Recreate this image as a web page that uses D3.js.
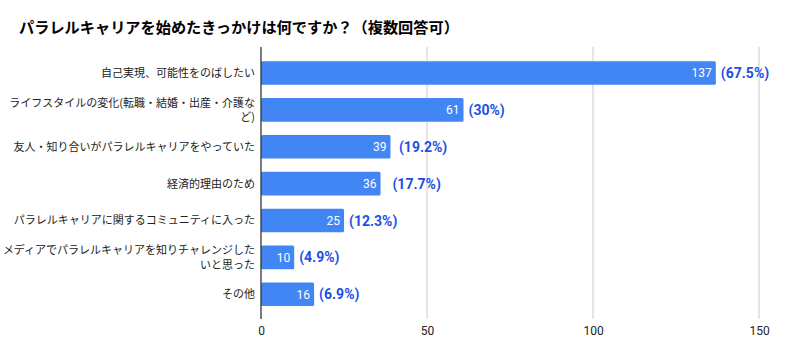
<!DOCTYPE html>
<html><head><meta charset="utf-8">
<script src="https://cdnjs.cloudflare.com/ajax/libs/d3/7.8.5/d3.min.js"></script>
<style>
html,body{margin:0;padding:0;background:#fff;}
svg{display:block;}
</style></head>
<body><svg id="c" width="791" height="360"></svg>
<script>
const title = "パラレルキャリアを始めたきっかけは何ですか？（複数回答可）";
const categories = [
  "自己実現、可能性をのばしたい",
  "ライフスタイルの変化(転職・結婚・出産・介護など)",
  "友人・知り合いがパラレルキャリアをやっていた",
  "経済的理由のため",
  "パラレルキャリアに関するコミュニティに入った",
  "メディアでパラレルキャリアを知りチャレンジしたいと思った",
  "その他"
];
const values = [137, 61, 39, 36, 25, 10, 16];
const pctLabels = ["(67.5%)", "(30%)", " (19.2%)", "  (17.7%)", "(12.3%)", "(4.9%)", "(6.9%)"];
const xTicks = [0, 50, 100, 150];

const svg = d3.select("#c");
const L = 261, R = 759, T = 47, B = 319;
const x = d3.scaleLinear().domain([0, 150]).range([L, R]);
const y = d3.scaleBand().domain(categories).range([54.5, 312.7]).paddingInner(0.36).paddingOuter(0.18);

svg.append("text").attr("x", 19).attr("y", 33)
  .attr("font-family", "'Noto Sans CJK JP', sans-serif").attr("font-weight", "bold")
  .attr("font-size", 15.2).attr("fill", "#000").text(title);

// grid
svg.append("g").selectAll("line").data(xTicks.filter(d => d > 0)).join("line")
  .attr("x1", d => x(d)).attr("x2", d => x(d)).attr("y1", T).attr("y2", B)
  .attr("stroke", "#cccccc").attr("stroke-width", 1);

// x tick labels
const xa = svg.append("g").attr("transform", `translate(0,${B})`)
  .call(d3.axisBottom(x).tickValues(xTicks).tickSize(0).tickPadding(7).tickFormat(d3.format("d")));
xa.select(".domain").remove();
xa.selectAll("text").attr("font-family", "Roboto, sans-serif").attr("font-size", 12).attr("fill", "#222");

// bars
svg.append("g").selectAll("rect").data(values).join("rect")
  .attr("x", x(0)).attr("y", (d, i) => y(categories[i]))
  .attr("width", d => x(d) - x(0)).attr("height", y.bandwidth())
  .attr("rx", 1.5).attr("fill", "#4285f4");

// zero axis line
svg.append("line").attr("x1", x(0)).attr("x2", x(0)).attr("y1", T).attr("y2", B)
  .attr("stroke", "#333").attr("stroke-width", 1.3);

// value labels inside
svg.append("g").selectAll("text").data(values).join("text")
  .attr("x", d => x(d) - 4).attr("y", (d, i) => y(categories[i]) + y.bandwidth() / 2)
  .attr("dy", "0.36em").attr("text-anchor", "end")
  .attr("font-family", "Roboto, sans-serif").attr("font-size", 12).attr("fill", "#fff")
  .text(d => d);

// percent labels
svg.append("g").selectAll("text").data(values).join("text")
  .attr("x", d => x(d) + 5).attr("y", (d, i) => y(categories[i]) + y.bandwidth() / 2)
  .attr("dy", "0.36em").attr("text-anchor", "start").style("white-space", "pre")
  .attr("font-family", "Roboto, sans-serif").attr("font-weight", "bold").attr("font-size", 14).attr("fill", "#1d4fe6")
  .text((d, i) => pctLabels[i]);

// category labels with wrapping
const maxW = 254.5, lineH = 14.5, fs = 11;
const cg = svg.append("g");
categories.forEach((c, i) => {
  const t = cg.append("text").attr("text-anchor", "end")
    .attr("font-family", "'Noto Sans CJK JP', sans-serif").attr("font-size", fs).attr("fill", "#222");
  const lines = [];
  let cur = "";
  const probe = t.append("tspan");
  for (const ch of Array.from(c)) {
    probe.text(cur + ch);
    if (cur && probe.node().getComputedTextLength() > maxW) { lines.push(cur); cur = ch; }
    else cur += ch;
  }
  lines.push(cur);
  probe.remove();
  const cy = y(c) + y.bandwidth() / 2;
  const y0 = cy - (lines.length - 1) * lineH / 2;
  lines.forEach((ln, k) => {
    t.append("tspan").attr("x", 255).attr("y", y0 + k * lineH).attr("dy", "0.36em").text(ln);
  });
});
</script></body></html>
